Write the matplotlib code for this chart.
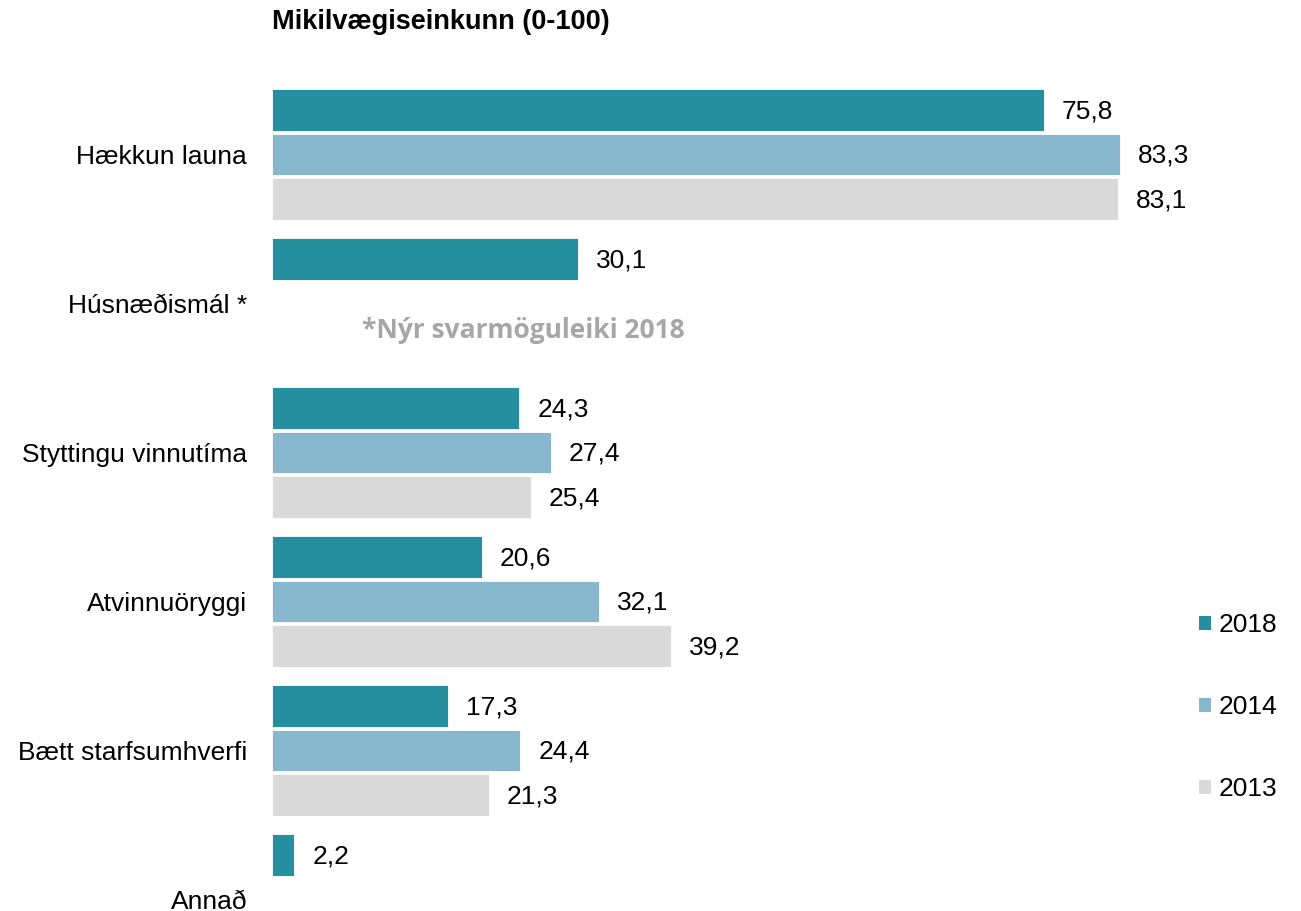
import matplotlib.pyplot as plt
from matplotlib.patches import Patch

categories = ["Hækkun launa", "Húsnæðismál *", "Styttingu vinnutíma",
              "Atvinnuöryggi", "Bætt starfsumhverfi", "Annað"]
years = ["2018", "2014", "2013"]
v2018 = [75.8, 30.1, 24.3, 20.6, 17.3, 2.2]
v2014 = [83.3, None, 27.4, 32.1, 24.4, None]
v2013 = [83.1, None, 25.4, 39.2, 21.3, None]
colors = ["#258e9f", "#87b7cd", "#d9d9d9"]

plt.rcParams['font.family'] = ['Liberation Sans', 'DejaVu Sans']

fig = plt.figure(figsize=(13.01, 9.11), dpi=100)
W, H = 1301, 911
ax_left = 272
px_per_unit = 10.18
ax = fig.add_axes([ax_left / W, 0, 1 - ax_left / W, 1])
ax.set_xlim(0, (W - ax_left) / px_per_unit)

group_px = 149.0
first_center = 154.5
ax.set_ylim((H - first_center) / group_px, -first_center / group_px)

pitch = 44.3 / group_px
height = 41.5 / group_px
series = [v2018, v2014, v2013]
for j, vals in enumerate(series):
    for i, v in enumerate(vals):
        if v is None:
            continue
        y = i + (j - 1) * pitch
        ax.barh(y, v, height=height, color=colors[j], edgecolor='white',
                linewidth=0.6)
        ax.text(v + 1.75, y + 0.01, f"{v:.1f}".replace('.', ','),
                va='center', ha='left', fontsize=19)

ax.set_yticks(range(len(categories)))
ax.set_yticklabels(categories, fontsize=19)
ax.tick_params(axis='y', length=0, pad=18)
ax.set_xticks([])
for s in ax.spines.values():
    s.set_visible(False)

fig.text(ax_left / W, 1 - 22 / H, "Mikilvægiseinkunn (0-100)",
         fontsize=19.5, fontweight='bold', va='center', ha='left')
fig.text(362 / W, 1 - 331 / H, "*Nýr svarmöguleiki 2018",
         fontsize=19, fontweight='bold', color='#a6a6a6', va='center',
         ha='left', family='Open Sans')

handles = [Patch(facecolor=c, edgecolor='none') for c in colors]
fig.legend(handles, years, loc='upper left',
           bbox_to_anchor=(1186 / W, 1 - 600 / H), frameon=False,
           fontsize=19, handlelength=0.45, handleheight=0.45,
           handletextpad=0.3, labelspacing=2.2, borderpad=0)

fig.savefig("out.png", dpi=100)
